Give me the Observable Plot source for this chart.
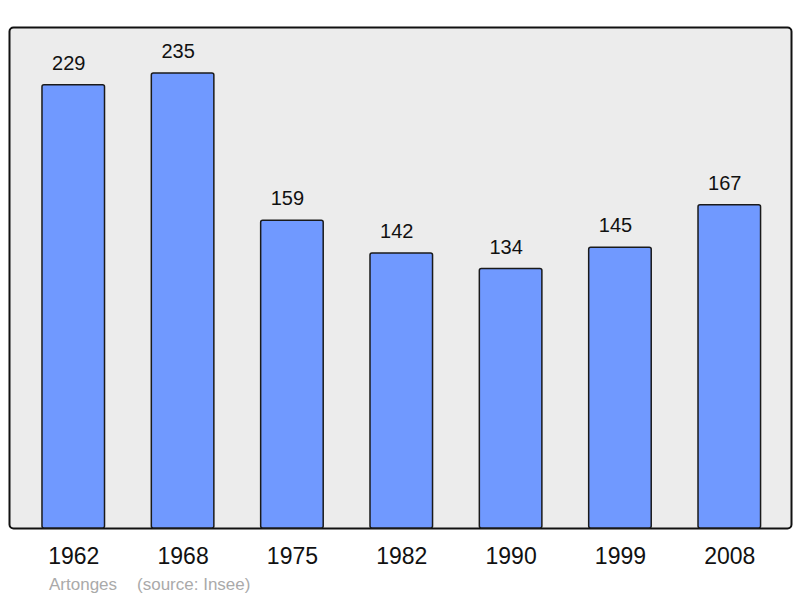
<!DOCTYPE html>
<html>
<head>
<meta charset="utf-8">
<script src="https://cdn.jsdelivr.net/npm/d3@7"></script>
<script src="https://cdn.jsdelivr.net/npm/@observablehq/plot@0.6"></script>
<style>
  html, body { margin: 0; padding: 0; background: #fff; }
  body { width: 800px; height: 598px; overflow: hidden; font-family: "Liberation Sans", Arial, sans-serif; }
  #caption { position: absolute; left: 49px; top: 575px; font-size: 17px; color: #aaaaaa; white-space: pre; line-height: 20px; }
</style>
</head>
<body>
<div id="chart"></div>
<div id="caption"><span>Artonges</span><span style="margin-left:20px">(source: Insee)</span></div>
<script>
const years = ["1962", "1968", "1975", "1982", "1990", "1999", "2008"];
const population = [229, 235, 159, 142, 134, 145, 167];

const data = years.map((y, i) => ({year: y, value: population[i]}));

const chart = Plot.plot({
  width: 800,
  height: 570,
  marginTop: 27,
  marginBottom: 42,
  marginLeft: 9,
  marginRight: 9,
  style: {fontFamily: "'Liberation Sans', Arial, sans-serif", background: "transparent", overflow: "visible"},
  x: {domain: years, paddingInner: 0.428, paddingOuter: 0.29, align: 0.52, round: false, label: null},
  y: {domain: [0, 258.8], axis: null},
  marks: [
    Plot.frame({fill: "#ececec", stroke: "#111", strokeWidth: 2, rx: 4}),
    Plot.barY(data, {x: "year", y: "value", fill: "#7099ff", stroke: "#1a1a1a", strokeWidth: 1.5, rx: 2}),
    Plot.text(data, {x: "year", y: "value", text: d => String(d.value), dx: -5, dy: -22, fontSize: 20, fill: "#111", lineAnchor: "middle"}),
    Plot.axisX({tickSize: 0, tickPadding: 19, fontSize: 23, color: "#111", label: null})
  ]
});
document.getElementById("chart").appendChild(chart);
</script>
</body>
</html>
